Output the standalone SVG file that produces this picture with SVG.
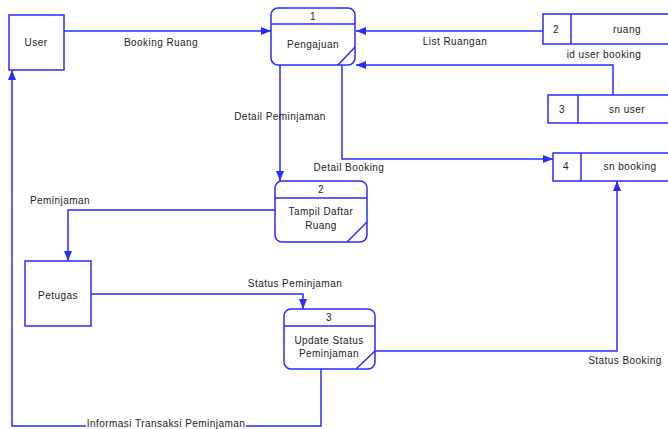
<svg xmlns="http://www.w3.org/2000/svg" width="668" height="429" viewBox="0 0 668 429">
<defs>
<marker id="arr" viewBox="0 0 10 8" refX="10" refY="4" markerWidth="10" markerHeight="8" markerUnits="userSpaceOnUse" orient="auto">
<path d="M0,0 L10,4 L0,8 z" fill="#2b2bff"/>
</marker>
</defs>
<style>
.s{fill:none;stroke:#2b2bff;stroke-width:1.5}
.b{fill:#fff;stroke:#2b2bff;stroke-width:1.5}
.c{fill:none;stroke:#2b2bff;stroke-width:1.5;marker-end:url(#arr)}
text{font-family:"Liberation Sans",Arial,sans-serif;font-size:10px;fill:#222;letter-spacing:0.45px}
.m{text-anchor:middle}
</style>
<rect width="668" height="429" fill="#fff"/>
<g id="connectors">
<path class="c" d="M64,31 H271"/>
<path class="c" d="M543,31 H356"/>
<path class="c" d="M613,95 V65 H356"/>
<path class="c" d="M342,65 V159 H553"/>
<path class="c" d="M280,65 V181"/>
<path class="c" d="M275,210 H68 V261"/>
<path class="c" d="M91,294 H303 V309"/>
<path class="c" d="M375,351 H617 V181"/>
<path class="c" d="M321,369 V426 H12 V70"/>
<text x="161" y="46" class="m">Booking Ruang</text>
<text x="455" y="45" class="m">List Ruangan</text>
<text x="604" y="58" class="m">id user booking</text>
<text x="349" y="171" class="m">Detail Booking</text>
<text x="280" y="120" class="m">Detail Peminjaman</text>
<text x="60" y="204" class="m">Peminjaman</text>
<text x="295" y="287" class="m">Status Peminjaman</text>
<text x="625" y="364" class="m">Status Booking</text>
<rect x="86" y="419" width="160" height="12" fill="#fff"/>
<text x="166" y="427" class="m">Informasi Transaksi Peminjaman</text>
</g>
<g id="user">
<rect class="b" x="9" y="15" width="55" height="55"/>
<text x="36" y="46" class="m">User</text>
</g>
<g id="petugas">
<rect class="b" x="25" y="261" width="66" height="65"/>
<text x="58" y="299" class="m">Petugas</text>
</g>
<g id="p1">
<rect class="b" x="271" y="8" width="84" height="57" rx="7"/>
<path class="s" d="M271,24 H355 M338,65 L355,47"/>
<text x="313" y="20" class="m">1</text>
<text x="313" y="48" class="m">Pengajuan</text>
</g>
<g id="p2">
<rect class="b" x="275" y="181" width="92" height="61" rx="7"/>
<path class="s" d="M275,198 H367 M347,242 L367,222"/>
<text x="321" y="193" class="m">2</text>
<text x="321" y="215" class="m">Tampil Daftar</text>
<text x="321" y="229" class="m">Ruang</text>
</g>
<g id="p3">
<rect class="b" x="284" y="309" width="91" height="60" rx="7"/>
<path class="s" d="M284,326 H375 M356,369 L375,351"/>
<text x="329" y="321" class="m">3</text>
<text x="329" y="344" class="m">Update Status</text>
<text x="329" y="357" class="m">Peminjaman</text>
</g>
<g id="ds2">
<rect class="b" x="543" y="14" width="130" height="30"/>
<path class="s" d="M571,14 V44"/>
<text x="556" y="33" class="m">2</text>
<text x="627" y="33" class="m">ruang</text>
</g>
<g id="ds3">
<rect class="b" x="548" y="95" width="125" height="28"/>
<path class="s" d="M578,95 V123"/>
<text x="562" y="113" class="m">3</text>
<text x="627" y="113" class="m">sn user</text>
</g>
<g id="ds4">
<rect class="b" x="553" y="153" width="120" height="28"/>
<path class="s" d="M581,153 V181"/>
<text x="566" y="170" class="m">4</text>
<text x="630" y="170" class="m">sn booking</text>
</g>
</svg>
